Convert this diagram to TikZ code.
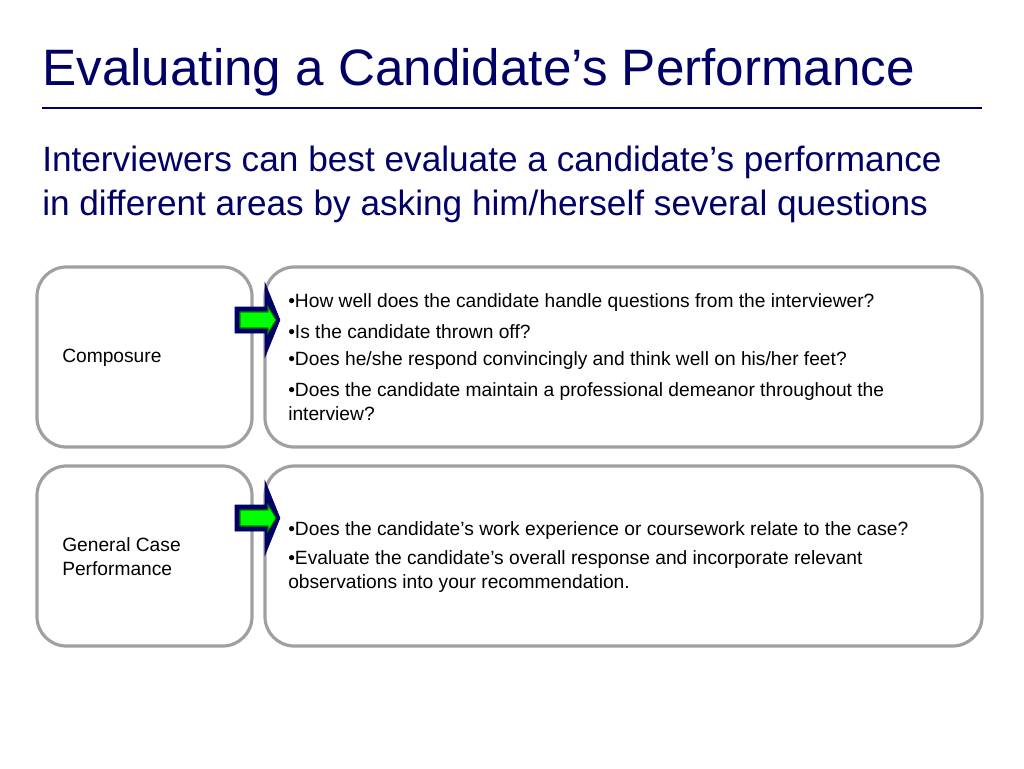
\documentclass[tikz,border=0pt]{standalone}
\usepackage{fontspec}
\setmainfont{Liberation Sans}
\definecolor{navy}{RGB}{0,0,102}
\definecolor{bgray}{RGB}{160,160,160}
\definecolor{agreen}{RGB}{0,255,0}
\begin{document}
\begin{tikzpicture}[x=0.75pt,y=-0.75pt,
  box/.style={draw=bgray,line width=2.4pt,rounded corners=22pt,fill=white},
  txt/.style={anchor=north west,inner sep=0pt,font=\fontsize{14.4}{18}\selectfont,align=left},
  bul/.style={anchor=west,inner sep=0pt,font=\fontsize{14.4}{18}\selectfont,align=left}]
\useasboundingbox (0,0) rectangle (1024,768);
\node[anchor=west,inner sep=0pt,text=navy,font=\fontsize{38.4}{42}\selectfont] (title) at (42,72) {Evaluating a Candidate’s Performance};
\draw[navy,line width=2.2pt] (42,108) -- (982,108);
\node[anchor=north west,inner sep=0pt,text=navy,align=left,font=\fontsize{26.4}{33}\selectfont] (sub) at (42,146) {Interviewers can best evaluate a candidate’s performance\\in different areas by asking him/herself several questions};
\draw[box] (37,267) rectangle (252,447);
\draw[box] (265,267) rectangle (982,447);
\draw[box] (37,466) rectangle (252,646);
\draw[box] (265,466) rectangle (982,646);
\node[bul] (c1) at (62,358) {Composure};
\node[txt,anchor=west] (c2) at (62,557) {General Case\\Performance};
\foreach \y/\n in {320/a1,518/a2}{
  \draw[navy,fill=navy,line join=miter] (235,\y-13) -- (265,\y-13) -- (265,\y-37) -- (280,\y) -- (265,\y+37) -- (265,\y+13) -- (235,\y+13) -- cycle;
  \draw[green!50!black,fill=agreen,line width=0.8pt] (240,\y-8) -- (268,\y-8) -- (268,\y-13) -- (276,\y) -- (268,\y+13) -- (268,\y+8) -- (240,\y+8) -- cycle;
}
\node[bul] (b1) at (288,303) {•How well does the candidate handle questions from the interviewer?};
\node[bul] (b2) at (288,332) {•Is the candidate thrown off?};
\node[bul] (b3) at (288,361) {•Does he/she respond convincingly and think well on his/her feet?};
\node[txt,anchor=west] (b4) at (288,402) {•Does the candidate maintain a professional demeanor throughout the\\interview?};
\node[bul] (d1) at (288,531) {•Does the candidate’s work experience or coursework relate to the case?};
\node[txt,anchor=west] (d2) at (288,572) {•Evaluate the candidate’s overall response and incorporate relevant\\observations into your recommendation.};
\end{tikzpicture}
\end{document}
